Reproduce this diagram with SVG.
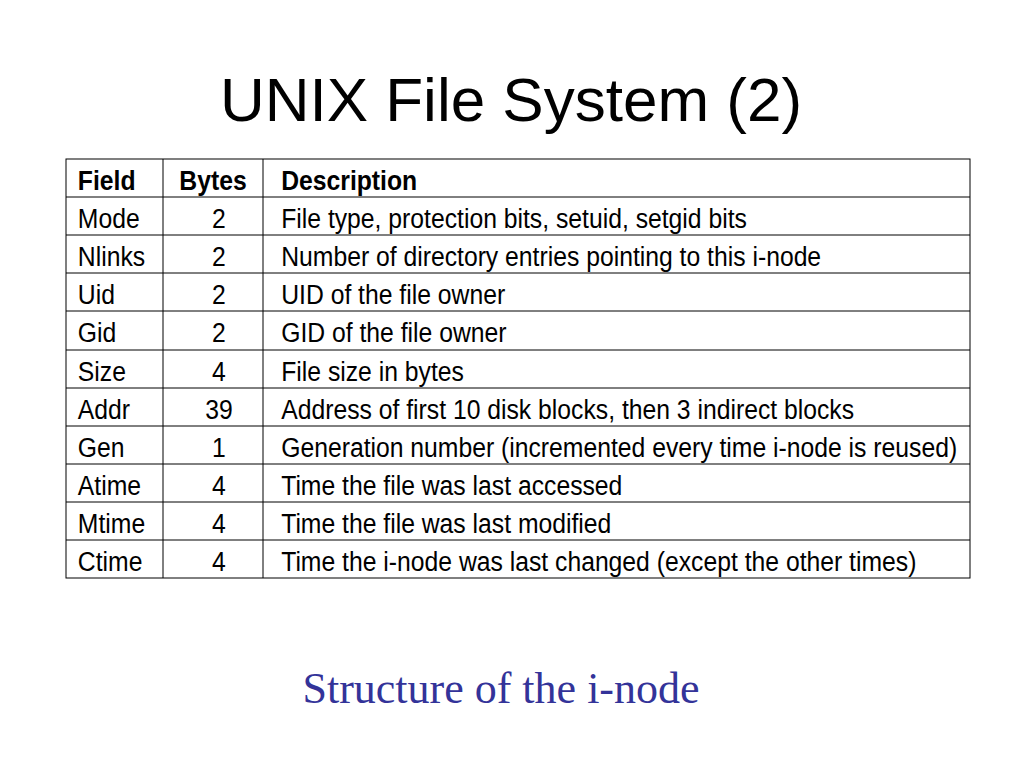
<svg xmlns="http://www.w3.org/2000/svg" width="1024" height="768" viewBox="0 0 1024 768">
<style>
.t{font-family:"Liberation Sans",sans-serif;font-size:27px;fill:#000}
.h{font-weight:bold}
.c{text-anchor:middle}
line{stroke:#000;stroke-width:1}
</style>
<rect width="1024" height="768" fill="#fff"/>
<text x="511" y="121" text-anchor="middle" style="font-family:'Liberation Sans',sans-serif;font-size:62px">UNIX File System (2)</text>
<g id="table">
<rect x="66" y="159" width="904" height="419" fill="none" stroke="#000"/>
<line x1="163" y1="159" x2="163" y2="578"/>
<line x1="263" y1="159" x2="263" y2="578"/>
<line x1="66" y1="197" x2="970" y2="197"/>
<line x1="66" y1="235" x2="970" y2="235"/>
<line x1="66" y1="273" x2="970" y2="273"/>
<line x1="66" y1="311" x2="970" y2="311"/>
<line x1="66" y1="350" x2="970" y2="350"/>
<line x1="66" y1="388" x2="970" y2="388"/>
<line x1="66" y1="426" x2="970" y2="426"/>
<line x1="66" y1="464" x2="970" y2="464"/>
<line x1="66" y1="502" x2="970" y2="502"/>
<line x1="66" y1="540" x2="970" y2="540"/>
<g transform="scale(0.916,1)">
<text class="t h" x="85" y="190">Field</text><text class="t h c" x="232.5" y="190">Bytes</text><text class="t h" x="307" y="190">Description</text>
<text class="t" x="85" y="228">Mode</text><text class="t c" x="239" y="228">2</text><text class="t" x="307" y="228">File type, protection bits, setuid, setgid bits</text>
<text class="t" x="85" y="266">Nlinks</text><text class="t c" x="239" y="266">2</text><text class="t" x="307" y="266">Number of directory entries pointing to this i-node</text>
<text class="t" x="85" y="304">Uid</text><text class="t c" x="239" y="304">2</text><text class="t" x="307" y="304">UID of the file owner</text>
<text class="t" x="85" y="342">Gid</text><text class="t c" x="239" y="342">2</text><text class="t" x="307" y="342">GID of the file owner</text>
<text class="t" x="85" y="381">Size</text><text class="t c" x="239" y="381">4</text><text class="t" x="307" y="381">File size in bytes</text>
<text class="t" x="85" y="419">Addr</text><text class="t c" x="239" y="419">39</text><text class="t" x="307" y="419">Address of first 10 disk blocks, then 3 indirect blocks</text>
<text class="t" x="85" y="457">Gen</text><text class="t c" x="239" y="457">1</text><text class="t" x="307" y="457">Generation number (incremented every time i-node is reused)</text>
<text class="t" x="85" y="495">Atime</text><text class="t c" x="239" y="495">4</text><text class="t" x="307" y="495">Time the file was last accessed</text>
<text class="t" x="85" y="533">Mtime</text><text class="t c" x="239" y="533">4</text><text class="t" x="307" y="533">Time the file was last modified</text>
<text class="t" x="85" y="571">Ctime</text><text class="t c" x="239" y="571">4</text><text class="t" x="307" y="571">Time the i-node was last changed (except the other times)</text>
</g>
</g>
<text x="501" y="703" text-anchor="middle" style="font-family:'Liberation Serif',serif;font-size:44px;fill:#333399">Structure of the i-node</text>
</svg>
